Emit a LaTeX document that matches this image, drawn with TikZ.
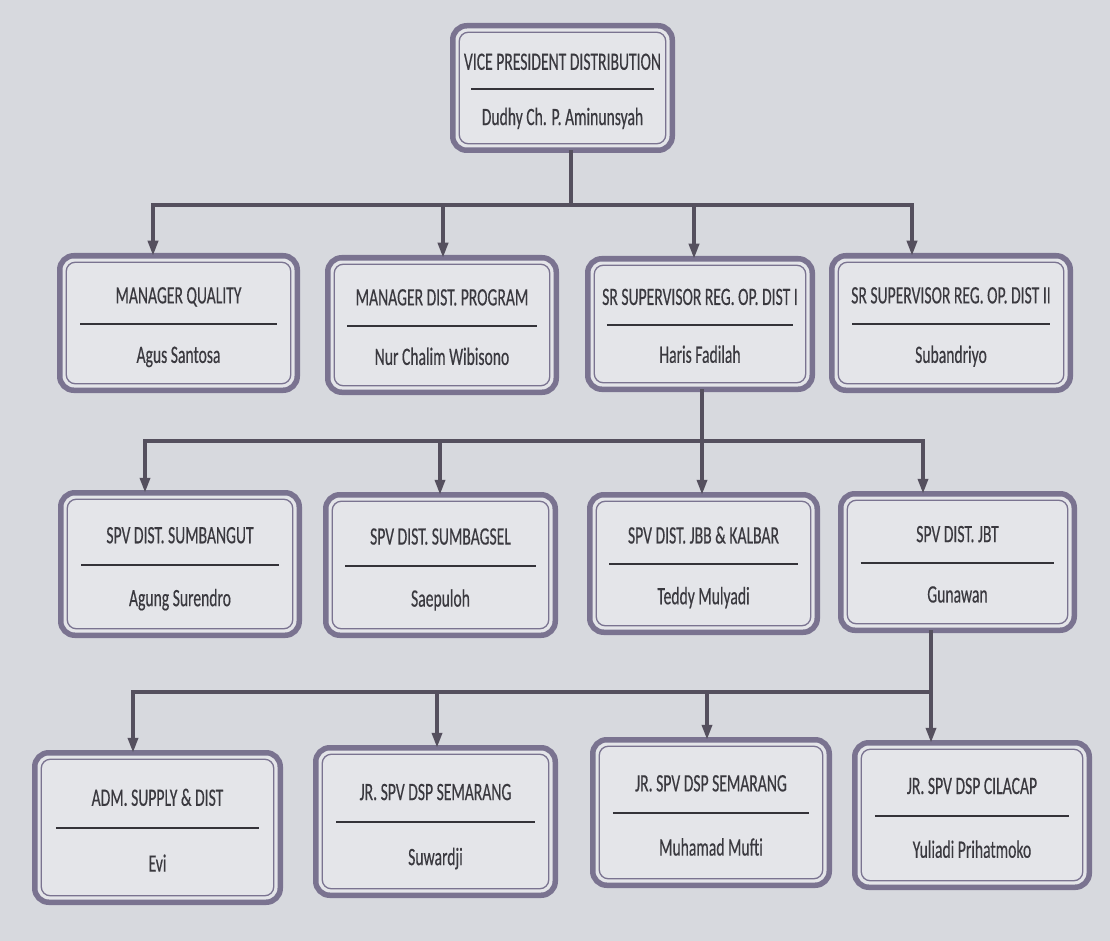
\documentclass[tikz,border=0pt]{standalone}
\usepackage{fontspec}
\setmainfont[FakeStretch=0.625,FakeBold=0.35]{Carlito}
\usetikzlibrary{arrows.meta,calc}
\definecolor{bg}{HTML}{D7D9DE}
\definecolor{boxfill}{HTML}{E4E5E9}
\definecolor{framecol}{HTML}{7A7390}
\definecolor{conncol}{HTML}{55505E}
\definecolor{ink}{HTML}{3A393F}
\tikzset{
  orgframe/.style={draw=framecol, line width=5.5pt, fill=boxfill, rounded corners=14pt, inner sep=0pt, outer sep=0pt},
  orginner/.style={draw=framecol, line width=1.3pt, rounded corners=9pt},
  orgtext/.style={text=ink, font=\fontsize{25}{29}\selectfont, inner sep=0pt},
  orgrule/.style={draw=ink!90!black, line width=2.2pt},
  connector/.style={draw=conncol, line width=3.5pt},
  arrowline/.style={connector, -{Triangle[length=15pt,width=10pt]}},
}
\newcommand{\orgbox}[7]{%
  \pgfmathsetmacro{\bw}{#4-#2-5.5}\pgfmathsetmacro{\bh}{#5-#3-5.5}%
  \pgfmathsetmacro{\cx}{(#2+#4)/2}\pgfmathsetmacro{\cy}{(#3+#5)/2}%
  \pgfmathsetmacro{\ty}{#3+0.36*(#5-#3)}%
  \pgfmathsetmacro{\ly}{#3+0.505*(#5-#3)}%
  \pgfmathsetmacro{\ny}{#3+0.785*(#5-#3)}%
  \pgfmathsetmacro{\ri}{0.095*(#4-#2)}%
  \node[orgframe, minimum width=\bw pt, minimum height=\bh pt] (#1) at (\cx,\cy) {};
  \draw[orginner] ([shift={(6.5,6.5)}]#1.north west) rectangle ([shift={(-6.5,-6.5)}]#1.south east);
  \node[orgtext, anchor=base] (#1-t) at (\cx,\ty) {#6};
  \node[orgtext, anchor=base] (#1-n) at (\cx,\ny) {#7};
  \coordinate (#1-l1) at (#2+\ri,\ly);
  \coordinate (#1-l2) at (#4-\ri,\ly);
  \draw[orgrule] (#1-l1) -- (#1-l2);
}
\begin{document}
\begin{tikzpicture}[x=1pt,y=-1pt]
\fill[bg] (0,0) rectangle (1110,941);
\useasboundingbox (0,0) rectangle (1110,941);

% level 0
\orgbox{vp}{450}{23}{675}{153}{VICE PRESIDENT DISTRIBUTION}{Dudhy Ch. P. Aminunsyah}
% level 1
\orgbox{mq}{57}{253}{300}{393}{MANAGER QUALITY}{Agus Santosa}
\orgbox{mdp}{325}{255}{559}{395}{MANAGER DIST. PROGRAM}{Nur Chalim Wibisono}
\orgbox{sr1}{585}{256}{815}{392}{SR SUPERVISOR REG. OP. DIST I}{Haris Fadilah}
\orgbox{sr2}{829}{253}{1073}{393}{SR SUPERVISOR REG. OP. DIST II}{Subandriyo}
% level 2
\orgbox{s1}{58}{490}{302}{638}{SPV DIST. SUMBANGUT}{Agung Surendro}
\orgbox{s2}{323}{492}{558}{638}{SPV DIST. SUMBAGSEL}{Saepuloh}
\orgbox{s3}{587}{492}{820}{635}{SPV DIST. JBB \& KALBAR}{Teddy Mulyadi}
\orgbox{s4}{838}{491}{1077}{633}{SPV DIST. JBT}{Gunawan}
% level 3
\orgbox{a1}{32}{750}{283}{905}{ADM. SUPPLY \& DIST}{Evi}
\orgbox{a2}{313}{745}{558}{898}{JR. SPV DSP SEMARANG}{Suwardji}
\orgbox{a3}{590}{737}{832}{888}{JR. SPV DSP SEMARANG}{Muhamad Mufti}
\orgbox{a4}{852}{740}{1092}{890}{JR. SPV DSP CILACAP}{Yuliadi Prihatmoko}

% connectors level 0 -> 1
\coordinate (j1) at (571,205);
\coordinate (b1a) at (153,205);
\coordinate (b1b) at (443,205);
\coordinate (b1c) at (694,205);
\coordinate (b1d) at (912,205);
\draw[connector] (j1 |- vp.south) -- (j1);
\draw[arrowline] (j1) -- (b1a) -- (b1a |- mq.north);
\draw[arrowline] (j1) -- (b1d) -- (b1d |- sr2.north);
\draw[arrowline] (b1b) -- (b1b |- mdp.north);
\draw[arrowline] (b1c) -- (b1c |- sr1.north);

% connectors level 1 -> 2
\coordinate (j2) at (702,441);
\coordinate (b2a) at (145,441);
\coordinate (b2b) at (440,441);
\coordinate (b2d) at (923,441);
\draw[arrowline] (j2 |- sr1.south) -- (j2 |- s3.north);
\draw[arrowline] (j2) -- (b2a) -- (b2a |- s1.north);
\draw[arrowline] (j2) -- (b2d) -- (b2d |- s4.north);
\draw[arrowline] (b2b) -- (b2b |- s2.north);

% connectors level 2 -> 3
\coordinate (j3) at (931,692);
\coordinate (b3a) at (133,692);
\coordinate (b3b) at (437,692);
\coordinate (b3c) at (707,692);
\draw[arrowline] (j3 |- s4.south) -- (j3 |- a4.north);
\draw[arrowline] (j3) -- (b3a) -- (b3a |- a1.north);
\draw[arrowline] (b3b) -- (b3b |- a2.north);
\draw[arrowline] (b3c) -- (b3c |- a3.north);
\end{tikzpicture}
\end{document}
